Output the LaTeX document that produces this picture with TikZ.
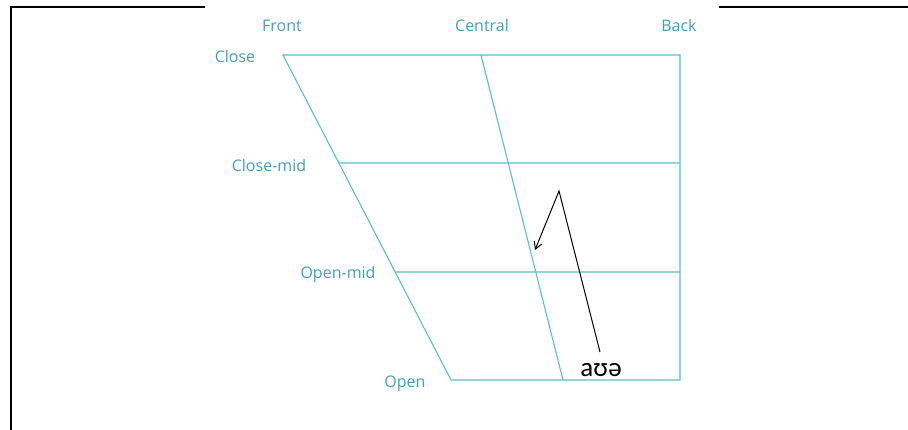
\documentclass[tikz,border=0pt]{standalone}
\usepackage{fontspec}
\usetikzlibrary{calc,arrows.meta}
\setmainfont{Open Sans}
\newfontfamily\ipafont{Carlito}
\definecolor{chartline}{RGB}{86,190,210}
\definecolor{chartlabel}{RGB}{62,160,192}
\tikzset{
  chart/.style={draw=chartline, line width=1.1pt},
  lbl/.style={text=chartlabel, font=\fontsize{16}{18}\selectfont, inner sep=0pt},
  frame/.style={draw=black, line width=2pt},
}
\begin{document}
\begin{tikzpicture}[x=1pt,y=-1pt]
\useasboundingbox (0,0) rectangle (908,430);
% frame
\coordinate (fa) at (11,430);
\coordinate (fb) at (11,7.5);
\coordinate (fc) at (205,7.5);
\coordinate (fd) at (719,7.5);
\coordinate (fe) at (908,7.5);
\draw[frame] (fa) -- (fb) -- (fc);
\draw[frame] (fd) -- (fe);
% chart corners
\coordinate (cl) at (283,55);
\coordinate (cc) at (481,55);
\coordinate (cb) at (680,55);
\coordinate (ol) at (451,380);
\coordinate (oc) at (563,380);
\coordinate (ob) at (680,380);
\coordinate (cml) at ($(cl)!108/325!(ol)$);
\coordinate (omb) at (680,272);
\coordinate (cmb) at (680,163);
\coordinate (oml) at ($(cl)!217/325!(ol)$);
\draw[chart] (cl) -- (cb) -- (ob) -- (ol) -- cycle;
\draw[chart] (cc) -- (oc);
\draw[chart] (cml) -- (cmb);
\draw[chart] (oml) -- (omb);
% labels
\node[lbl] (front) at (282,26) {Front};
\node[lbl] (central) at (482,26) {Central};
\node[lbl] (back) at (679,26) {Back};
\node[lbl] (close) at (235,57) {Close};
\node[lbl] (closemid) at (269,166) {Close-mid};
\node[lbl] (openmid) at (338,274) {Open-mid};
\node[lbl] (open) at (405,384) {Open};
% diphthong
\node[font=\ipafont\fontsize{27}{30}\selectfont, inner sep=0pt] (aue) at (601,370) {aʊə};
\coordinate (s) at (600,352);
\coordinate (p) at (559,191);
\coordinate (t) at (535,250);
\draw[black, line width=1pt, -{Straight Barb[length=7pt,width=8pt]}] (s) -- (p) -- (t);
\end{tikzpicture}
\end{document}
